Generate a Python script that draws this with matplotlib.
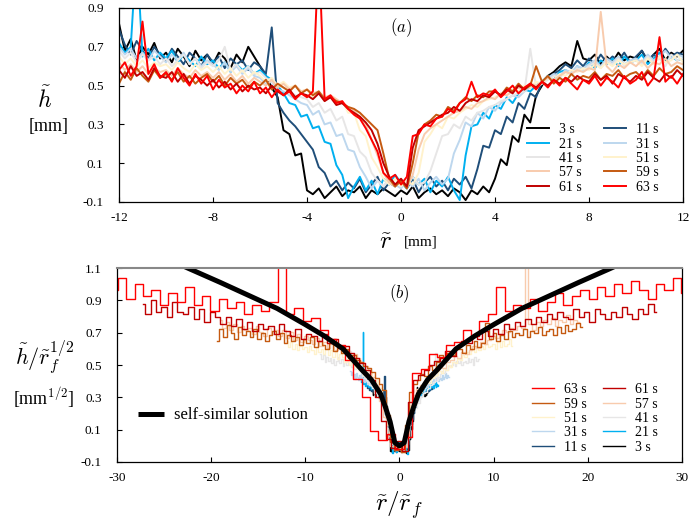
"""
Hole profiles h(r) at successive times, raw (a) and rescaled by r_f (b).
"""

import numpy as np
import matplotlib
matplotlib.use('Agg')
import matplotlib.pyplot as plt

plt.rcParams['font.family'] = ['Liberation Serif', 'DejaVu Serif']
plt.rcParams['mathtext.fontset'] = 'cm'
plt.rcParams['axes.unicode_minus'] = False

# radial grid of the profiles [mm]
r_start, r_step, n_pts = -12.0, 0.25, 97

# profile heights, in units of 0.01 mm
h_03s = [82, 68, 74, 63, 70, 66, 72, 64, 67, 62, 69, 65, 60, 68, 63, 66,
         61, 67, 64, 59, 66, 62, 70, 65, 60, 55, 49, 44, 27, 25, 14, 15,
         -4, -6, -3, -8, -5, -2, -7, -4, -5, -2, -8, -4, -6, -3, -5, -7,
         -4, -6, -2, -8, -5, -3, -6, -4, -7, -3, -5, -9, -4, -6, -2, -5,
         2, 12, 9, 24, 21, 35, 31, 45, 50, 55, 57, 60, 62, 60, 73, 64,
         63, 66, 61, 65, 62, 67, 63, 65, 64, 68, 62, 66, 69, 63, 67, 65, 68]
h_11s = [79, 71, 66, 73, 68, 64, 70, 66, 63, 69, 65, 61, 67, 64, 60, 66,
         62, 65, 59, 64, 61, 63, 58, 62, 60, 56, 80, 41, 36, 32, 29, 25,
         21, 17, 8, 5, -2, 1, -4, 0, -3, 2, -5, -1, 3, -4, 0, -2,
         1, -3, 2, -5, 0, 3, -2, 1, -4, 2, -1, 3, -3, 7, 19, 18,
         27, 25, 34, 31, 41, 38, 46, 44, 52, 54, 56, 58, 61, 59, 63, 60,
         64, 61, 66, 62, 65, 63, 67, 62, 65, 68, 63, 66, 64, 69, 65, 67, 66]
h_21s = [72, 67, 70, 120, 65, 69, 63, 67, 64, 68, 62, 66, 63, 60, 65, 61,
         63, 59, 62, 57, 61, 58, 60, 56, 58, 55, 53, 50, 46, 41, 40, 34,
         35, 28, 29, 21, 20, 9, 4, -8, -2, 3, -4, 1, -6, 2, -1, 4,
         0, -3, 3, -1, 2, -5, 1, -2, 3, -4, -9, 14, 29, 30, 36, 33,
         40, 38, 44, 41, 46, 48, 47, 50, 52, 55, 53, 57, 58, 56, 60, 58,
         62, 59, 63, 61, 64, 60, 65, 62, 63, 66, 61, 64, 67, 62, 65, 63, 64]
h_31s = [70, 66, 69, 64, 67, 63, 68, 65, 62, 66, 63, 67, 61, 64, 60, 63,
         61, 58, 62, 57, 60, 56, 59, 55, 54, 51, 52, 48, 47, 45, 43, 41,
         40, 35, 37, 30, 31, 24, 25, 17, 16, 8, 3, -3, 1, -2, 2, -1,
         -3, 1, -2, 2, -4, 0, 3, -1, 2, 15, 22, 31, 29, 36, 33, 39,
         37, 41, 43, 45, 44, 47, 49, 50, 52, 54, 56, 55, 58, 57, 60, 59,
         61, 63, 60, 64, 62, 65, 61, 63, 64, 62, 66, 63, 65, 68, 64, 66, 65]
h_41s = [68, 64, 67, 62, 66, 63, 65, 61, 64, 60, 63, 66, 61, 64, 59, 62,
         60, 63, 70, 58, 61, 57, 60, 56, 57, 54, 52, 50, 49, 47, 45, 44,
         43, 39, 41, 36, 38, 32, 34, 25, 24, 16, 13, 5, 1, -2, 2, -1,
         1, -2, 3, -1, 0, 6, 15, 24, 25, 30, 28, 34, 32, 36, 37, 39,
         40, 42, 43, 45, 46, 47, 69, 49, 51, 53, 55, 54, 57, 56, 59, 58,
         60, 62, 59, 63, 61, 64, 60, 62, 63, 61, 65, 62, 64, 60, 66, 63, 64]
h_51s = [65, 61, 64, 60, 63, 59, 62, 60, 61, 58, 62, 59, 57, 61, 58, 60,
         57, 60, 56, 59, 55, 58, 54, 57, 55, 52, 54, 50, 52, 49, 50, 47,
         48, 44, 47, 42, 45, 40, 42, 36, 36, 27, 24, 13, 8, 2, -1, 2,
         -2, 1, -1, 5, 21, 25, 30, 28, 34, 33, 36, 38, 40, 39, 42, 43,
         44, 46, 45, 48, 47, 50, 49, 52, 51, 54, 53, 56, 55, 58, 57, 59,
         58, 61, 59, 62, 60, 63, 61, 62, 63, 60, 64, 61, 65, 62, 63, 66, 62]
h_57s = [62, 58, 61, 57, 60, 56, 59, 57, 58, 55, 59, 56, 54, 58, 55, 57,
         54, 57, 53, 56, 52, 55, 51, 54, 52, 50, 53, 49, 51, 48, 50, 47,
         48, 46, 47, 44, 45, 43, 41, 39, 37, 34, 30, 22, 14, 5, 0, -2,
         1, -3, 4, 17, 25, 28, 30, 32, 34, 36, 37, 39, 38, 41, 42, 44,
         43, 46, 45, 47, 49, 48, 51, 50, 52, 54, 53, 55, 57, 56, 58, 57,
         59, 58, 88, 60, 57, 61, 59, 62, 60, 63, 59, 62, 61, 64, 60, 62, 61]
h_59s = [51, 57, 53, 59, 55, 52, 58, 54, 56, 53, 57, 52, 55, 51, 54, 56,
         52, 55, 50, 54, 51, 53, 49, 52, 50, 53, 48, 51, 49, 47, 50, 46,
         48, 45, 47, 43, 44, 42, 41, 39, 38, 36, 33, 30, 27, 15, 2, -2,
         1, -3, 10, 26, 30, 32, 35, 34, 39, 37, 41, 44, 42, 45, 44, 47,
         47, 45, 49, 47, 51, 48, 50, 60, 52, 55, 51, 54, 52, 56, 53, 55,
         54, 57, 53, 56, 55, 58, 54, 56, 57, 54, 58, 55, 59, 56, 57, 60, 58]
h_61s = [58, 54, 60, 55, 57, 53, 59, 55, 54, 57, 52, 56, 51, 55, 53, 50,
         53, 49, 52, 48, 51, 47, 50, 48, 49, 46, 50, 47, 45, 48, 44, 46,
         45, 43, 46, 42, 44, 40, 41, 38, 36, 34, 31, 27, 20, 10, 3, -1,
         2, -2, 18, 27, 29, 31, 33, 35, 36, 39, 37, 41, 43, 42, 45, 44,
         47, 45, 48, 46, 50, 48, 51, 49, 52, 50, 53, 51, 54, 52, 55, 53,
         52, 56, 53, 55, 51, 56, 54, 52, 55, 53, 57, 54, 52, 56, 54, 58, 55]
h_63s = [58, 62, 55, 60, 83, 56, 61, 54, 57, 52, 59, 54, 50, 56, 51, 55,
         48, 53, 49, 51, 46, 50, 47, 52, 46, 49, 44, 48, 45, 47, 43, 46,
         44, 47, 120, 43, 45, 41, 42, 38, 35, 33, 28, 22, 16, 5, 2, 4,
         -1, 3, 24, 25, 30, 29, 33, 34, 38, 36, 41, 43, 52, 44, 46, 45,
         48, 44, 47, 50, 46, 49, 51, 48, 52, 49, 53, 50, 54, 51, 48, 53,
         51, 55, 50, 54, 52, 49, 55, 51, 53, 57, 50, 54, 75, 52, 55, 51, 56]

times = ['3 s', '11 s', '21 s', '31 s', '41 s', '51 s', '57 s', '59 s', '61 s', '63 s']
profiles = [h_03s, h_11s, h_21s, h_31s, h_41s, h_51s, h_57s, h_59s, h_61s, h_63s]
# hole radius r_f of each profile [mm]
r_f = [4.0, 3.4, 2.9, 2.3, 1.43, 1.0, 0.63, 0.62, 0.44, 0.28]
colors = ['#000000', '#1f4e79', '#00b0f0', '#bdd7ee', '#e7e6e6',
          '#fff2cc', '#f8cbad', '#c55a11', '#c00000', '#ff0000']

# self-similar solution, h/r_f^(1/2) vs r/r_f
ss_x = [-24, -22.5, -19, -16, -13, -10, -8, -6, -4, -3, -2, -1.5, -1, -0.5, 0,
        0.5, 1, 1.5, 2, 3, 4, 6, 8, 10, 13, 16, 19, 22.5, 24]
ss_y = [1.14, 1.10, 1.01, 0.93, 0.85, 0.75, 0.68, 0.60, 0.47, 0.41, 0.32, 0.24, 0.15, 0.02, 0.0,
        0.02, 0.15, 0.24, 0.32, 0.41, 0.47, 0.60, 0.68, 0.75, 0.85, 0.93, 1.01, 1.10, 1.14]

r_mm = r_start + r_step * np.arange(n_pts)

fig = plt.figure(figsize=(6.89, 5.27), dpi=100)
ax1 = fig.add_axes([119 / 689, 1 - 202 / 527, 564 / 689, 194 / 527])
ax2 = fig.add_axes([117 / 689, 1 - 462 / 527, 565 / 689, 194 / 527])

lines_a = {}
lines_b = {}
for name, h, rf, c in zip(times, profiles, r_f, colors):
    h_mm = np.array(h) / 100.0
    lines_a[name], = ax1.plot(r_mm, h_mm, color=c, lw=1.4, label=name)
    lines_b[name], = ax2.plot(r_mm / rf, h_mm / np.sqrt(rf), color=c, lw=1.0,
                              drawstyle='steps-mid', label=name)
ss_line, = ax2.plot(ss_x, ss_y, color='black', lw=3.6, solid_capstyle='butt',
                    label='self-similar solution')

for ax in (ax1, ax2):
    ax.tick_params(direction='in', length=3.5, width=0.8, top=False, right=False, labelsize=9.5)
    ax.tick_params(axis='y', pad=11)
    ax.tick_params(axis='x', pad=7)
    for sp in ax.spines.values():
        sp.set_linewidth(0.9)

ax1.set_xlim(-12, 12)
ax1.set_ylim(-0.1, 0.9)
ax1.set_xticks([-12, -8, -4, 0, 4, 8, 12])
ax1.set_yticks([-0.1, 0.1, 0.3, 0.5, 0.7, 0.9])
ax1.set_yticklabels(['-0.1', '0.1', '0.3', '0.5', '0.7', '0.9'])

ax2.set_xlim(-30, 30)
ax2.set_ylim(-0.1, 1.1)
ax2.set_xticks([-30, -20, -10, 0, 10, 20, 30])
ax2.set_yticks([-0.1, 0.1, 0.3, 0.5, 0.7, 0.9, 1.1])
ax2.set_yticklabels(['-0.1', '0.1', '0.3', '0.5', '0.7', '0.9', '1.1'])
ax2.spines['top'].set_color('#888888')
ax2.spines['top'].set_linewidth(1.5)

# legends: row-wise order in the figure, matplotlib fills column-wise
order_a = ['3 s', '21 s', '41 s', '57 s', '61 s', '11 s', '31 s', '51 s', '59 s', '63 s']
ax1.legend([lines_a[k] for k in order_a], order_a, ncol=2, frameon=False, fontsize=10,
           loc='lower right', bbox_to_anchor=(0.972, 0.0), handlelength=1.6,
           handletextpad=0.7, columnspacing=1.6, labelspacing=0.1, borderaxespad=0.2)

order_b = ['63 s', '59 s', '51 s', '31 s', '11 s', '61 s', '57 s', '41 s', '21 s', '3 s']
leg_b = ax2.legend([lines_b[k] for k in order_b], order_b, ncol=2, frameon=False, fontsize=10,
                   loc='lower right', bbox_to_anchor=(0.972, 0.0), handlelength=1.6,
                   handletextpad=0.7, columnspacing=1.2, labelspacing=0.1, borderaxespad=0.2)
ax2.add_artist(leg_b)
ax2.legend([ss_line], ['self-similar solution'], frameon=False, fontsize=12,
           loc='center left', bbox_to_anchor=(0.01, 0.24), handlelength=1.6, handletextpad=0.6)

ax1.text(0.5, 0.9, '$(a)$', transform=ax1.transAxes, ha='center', va='center', fontsize=12)
ax2.text(0.5, 0.87, '$(b)$', transform=ax2.transAxes, ha='center', va='center', fontsize=12)

# axis labels
fig.text(45 / 689, 1 - 100 / 527, r'$\tilde{h}$', fontsize=17, ha='center', va='center')
fig.text(49 / 689, 1 - 127 / 527, '[mm]', fontsize=13, ha='center', va='center')
fig.text(386 / 689, 1 - 243 / 527, r'$\tilde{r}$', fontsize=18, ha='center', va='center')
fig.text(421 / 689, 1 - 242 / 527, '[mm]', fontsize=11, ha='center', va='center')

fig.text(45 / 689, 1 - 357 / 527, r'$\tilde{h}/\tilde{r}_f^{1/2}$', fontsize=16, ha='center', va='center')
fig.text(44 / 689, 1 - 398 / 527, r'[mm$^{1/2}$]', fontsize=13, ha='center', va='center')
fig.text(399 / 689, 1 - 505 / 527, r'$\tilde{r}/\tilde{r}_f$', fontsize=18, ha='center', va='center')

fig.savefig('out.png', dpi=100)
